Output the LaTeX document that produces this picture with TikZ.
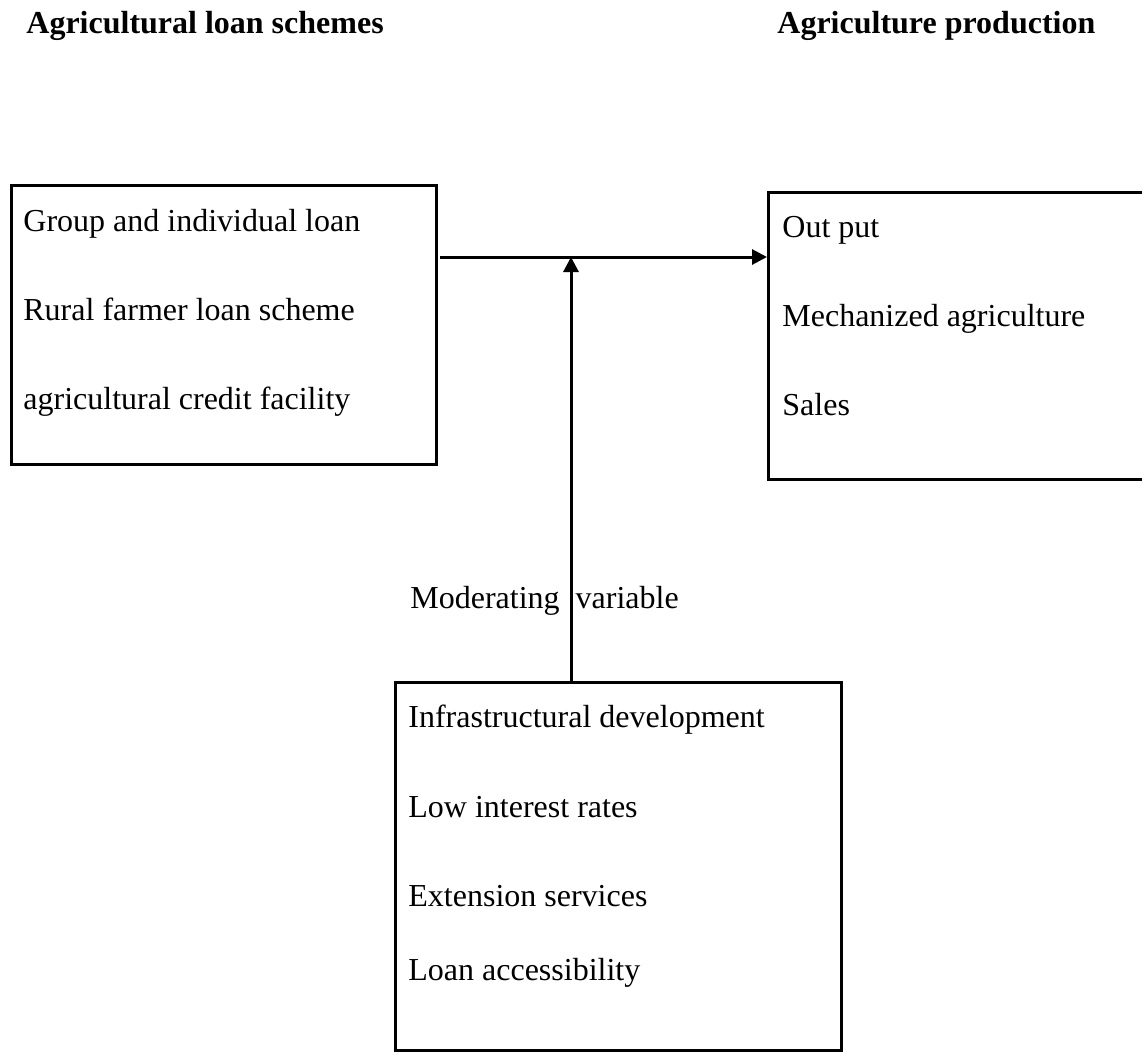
\documentclass[tikz,border=0pt]{standalone}
\usepackage{fontspec}
\setmainfont{Liberation Serif}
\usetikzlibrary{arrows.meta}
\begin{document}
\begin{tikzpicture}[x=0.5pt,y=-0.5pt,
  box/.style={draw=black,line width=1.5pt,inner sep=0pt,anchor=north west},
  txt/.style={anchor=base west,inner sep=0pt,font=\fontsize{16}{19}\selectfont},
  ttl/.style={anchor=base west,inner sep=0pt,font=\fontsize{16}{19}\selectfont\bfseries},
  arr/.style={line width=1.5pt,-{Triangle[length=7.5pt,width=7.5pt]}}]
\useasboundingbox (0,0) rectangle (1142,1051);
\clip (0,0) rectangle (1142,1051);
% titles
\node[ttl] (t1) at (26,33) {Agricultural loan schemes};
\node[ttl] (t2) at (777,33) {Agriculture production};
% boxes
\node[box,minimum width=212.5pt,minimum height=139.5pt] (lbox) at (10,184) {};
\node[box,minimum width=191.5pt,minimum height=143.5pt] (rbox) at (767,191) {};
\node[box,minimum width=223pt,minimum height=184pt] (bbox) at (394,681) {};
% left box text
\node[txt] (l1) at (23,231) {Group and individual loan};
\node[txt] (l2) at (23,320) {Rural farmer loan scheme};
\node[txt] (l3) at (23,409) {agricultural credit facility};
% right box text
\node[txt] (r1) at (782,237) {Out put};
\node[txt] (r2) at (782,326) {Mechanized agriculture};
\node[txt] (r3) at (782,415) {Sales};
% bottom box text
\node[txt] (b1) at (408,727) {Infrastructural development};
\node[txt] (b2) at (408,817) {Low interest rates};
\node[txt] (b3) at (408,906) {Extension services};
\node[txt] (b4) at (408,980) {Loan accessibility};
% moderating label
\node[txt] (mod) at (410,608) {Moderating\hspace{8pt}variable};
% connectors
\coordinate (hstart) at (440,257);
\coordinate (meet) at (571,257);
\draw[arr] (hstart) -- (rbox.west |- hstart);
\draw[arr] (bbox.north -| meet) -- (meet);
\end{tikzpicture}
\end{document}
